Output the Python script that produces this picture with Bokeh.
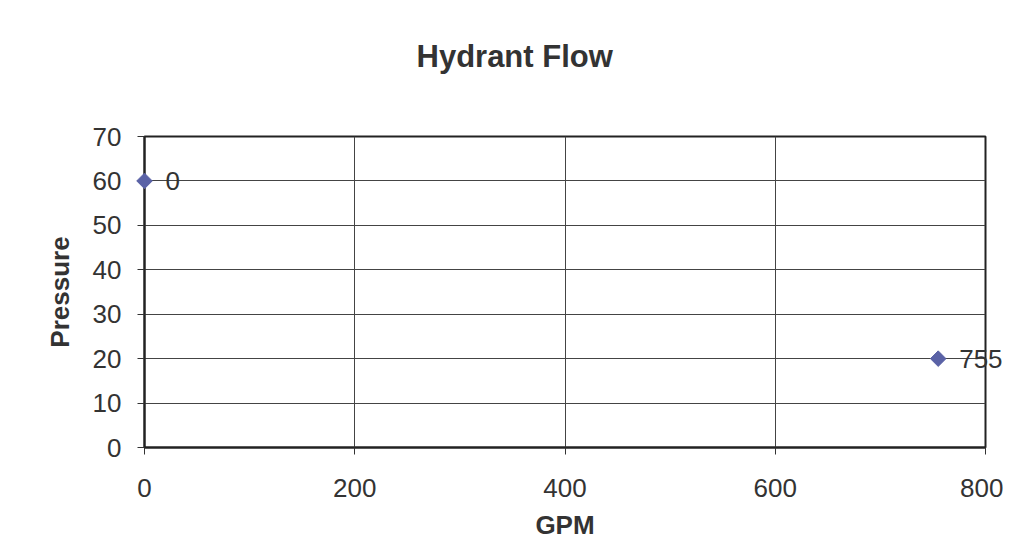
import math
from bokeh.plotting import figure
from bokeh.models import ColumnDataSource, Range1d, FixedTicker, Title
from bokeh.core.properties import value
from bokeh.embed import file_html
from bokeh.resources import INLINE

gpm = [0, 755]
pressure = [60, 20]
point_labels = ["0", "755"]
x_ticks = [0, 200, 400, 600, 800]
y_ticks = [0, 10, 20, 30, 40, 50, 60, 70]
title_text = "Hydrant Flow"

src = ColumnDataSource(dict(x=gpm, y=pressure, lab=point_labels))

p = figure(width=1003, height=532, output_backend="svg", toolbar_location=None,
           x_range=Range1d(0, 800), y_range=Range1d(0, 70),
           frame_width=841, frame_height=311,
           min_border_left=144, min_border_right=18, min_border_top=136, min_border_bottom=85)
p.background_fill_color = "white"
p.border_fill_color = "white"
p.outline_line_color = "#222222"
p.outline_line_width = 2

p.title = Title(text=title_text, align="left", text_font="Liberation Sans",
                text_font_size="31px", text_font_style="bold", text_color="#333333",
                offset=272, standoff=0)
# empty spacer between title and plot area
p.add_layout(Title(text=" ", text_font_size="1px", standoff=60), "above")

for ax in (p.xaxis[0], p.yaxis[0]):
    ax.axis_line_color = "#222222"
    ax.axis_line_width = 2
    ax.major_tick_line_color = "#333333"
    ax.major_tick_in = 0
    ax.major_tick_out = 7
    ax.minor_tick_line_color = None
    ax.major_label_text_font = "Liberation Sans"
    ax.major_label_text_font_size = "26px"
    ax.major_label_text_color = "#333333"
    ax.axis_label_text_font = "Liberation Sans"
    ax.axis_label_text_font_size = "26px"
    ax.axis_label_text_font_style = "bold"
    ax.axis_label_text_color = "#333333"

p.xaxis.ticker = FixedTicker(ticks=x_ticks)
p.yaxis.ticker = FixedTicker(ticks=y_ticks)
p.xaxis.axis_label = "GPM"
p.yaxis.axis_label = "Pressure"
p.xaxis.major_label_standoff = 24
p.yaxis.major_label_standoff = 16
p.xaxis.axis_label_standoff = 10
p.yaxis.axis_label_standoff = 15

p.xgrid.ticker = FixedTicker(ticks=x_ticks)
p.ygrid.ticker = FixedTicker(ticks=y_ticks)
p.grid.grid_line_color = "#444444"
p.grid.grid_line_width = 1

p.scatter("x", "y", source=src, marker="square", angle=math.pi / 4, size=11,
          fill_color="#5a62a6", line_color="#5a62a6", level="overlay")

p.text(x="x", y="y", text="lab", source=src, x_offset=21, y_offset=0,
       text_baseline="middle", text_align="left", text_font=value("Liberation Sans"),
       text_font_size="26px", text_color="#333333", level="overlay")

open("out.html", "w").write(file_html(p, INLINE))
